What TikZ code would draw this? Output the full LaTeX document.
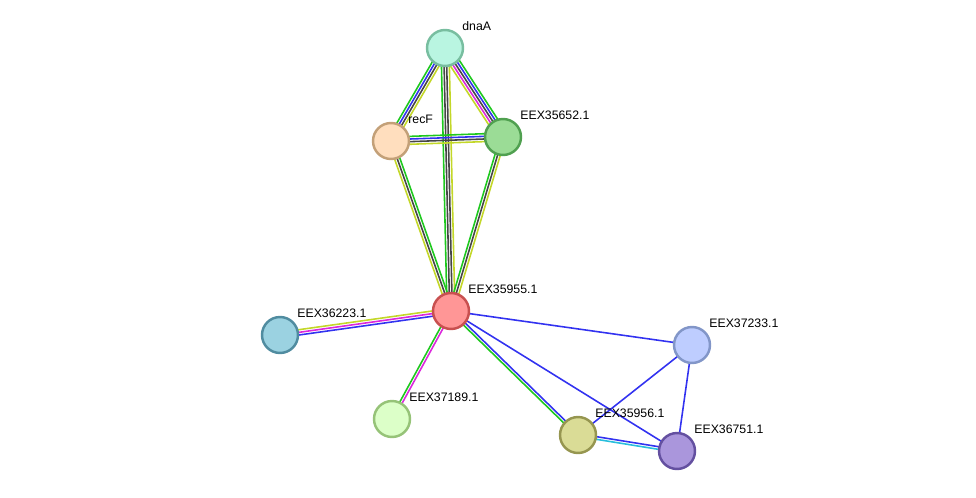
\documentclass[tikz,border=0pt]{standalone}
\usepackage{fontspec}
\setmainfont{Liberation Sans}
\usetikzlibrary{calc,backgrounds}
\definecolor{cg}{RGB}{30,200,30}
\definecolor{cb}{RGB}{50,50,240}
\definecolor{ck}{RGB}{70,70,70}
\definecolor{cy}{RGB}{195,215,40}
\definecolor{cm}{RGB}{220,40,220}
\definecolor{cc}{RGB}{40,190,220}
\newcommand\medge[4]{%
  \foreach \cc [count=\i] in {#4} {%
    \pgfmathsetmacro\off{(\i-(#3+1)/2)*1.5}%
    \draw[line width=0.9pt,color=\cc] ($(#1)!\off pt!90:(#2)$) -- ($(#2)!\off pt!-90:(#1)$);
  }}
\tikzset{nd/.style={circle,minimum size=0.72cm,inner sep=0pt,line width=1.4pt},
 lb/.style={anchor=west,font=\fontsize{7}{8}\selectfont,inner sep=0pt}}
\begin{document}
\begin{tikzpicture}[x=0.02cm,y=-0.02cm]
\useasboundingbox (0,0) rectangle (976,497);
\def\N#1#2#3#4#5#6{\node[nd,fill={rgb,255:#4},draw={rgb,255:#5}] (#1) at (#2,#3) {};
 \node[lb] (#1l) at (#2+17,#3-22) {#6};}
\N{dnaA}{445}{48}{red,185;green,245;blue,225}{red,120;green,190;blue,160}{dnaA}
\N{recF}{391}{141}{red,255;green,222;blue,190}{red,195;green,160;blue,120}{recF}
\N{e652}{503}{137}{red,155;green,220;blue,150}{red,80;green,160;blue,80}{EEX35652.1}
\N{e955}{451}{311}{red,255;green,150;blue,150}{red,200;green,80;blue,80}{EEX35955.1}
\N{e223}{280}{335}{red,155;green,210;blue,225}{red,80;green,140;blue,160}{EEX36223.1}
\N{e189}{392}{419}{red,220;green,255;blue,200}{red,150;green,195;blue,120}{EEX37189.1}
\N{e956}{578}{435}{red,218;green,220;blue,150}{red,150;green,150;blue,80}{EEX35956.1}
\N{e751}{677}{451}{red,170;green,150;blue,220}{red,100;green,80;blue,160}{EEX36751.1}
\N{e233}{692}{345}{red,190;green,205;blue,255}{red,130;green,150;blue,200}{EEX37233.1}
\begin{pgfonlayer}{background}
\medge{dnaA}{recF}{4}{cg,cb,ck,cy}
\medge{dnaA}{e652}{5}{cy,cm,ck,cb,cg}
\medge{dnaA}{e955}{4}{cg,ck,ck,cy}
\medge{recF}{e652}{4}{cy,ck,cb,cg}
\medge{recF}{e955}{3}{cy,ck,cg}
\medge{e652}{e955}{3}{cg,ck,cy}
\medge{e955}{e223}{3}{cy,cm,cb}
\medge{e955}{e189}{2}{cg,cm}
\medge{e955}{e956}{2}{cg,cb}
\medge{e955}{e751}{1}{cb}
\medge{e955}{e233}{1}{cb}
\medge{e956}{e233}{1}{cb}
\medge{e751}{e233}{1}{cb}
\medge{e956}{e751}{2}{cc,cb}
\end{pgfonlayer}
\end{tikzpicture}
\end{document}
